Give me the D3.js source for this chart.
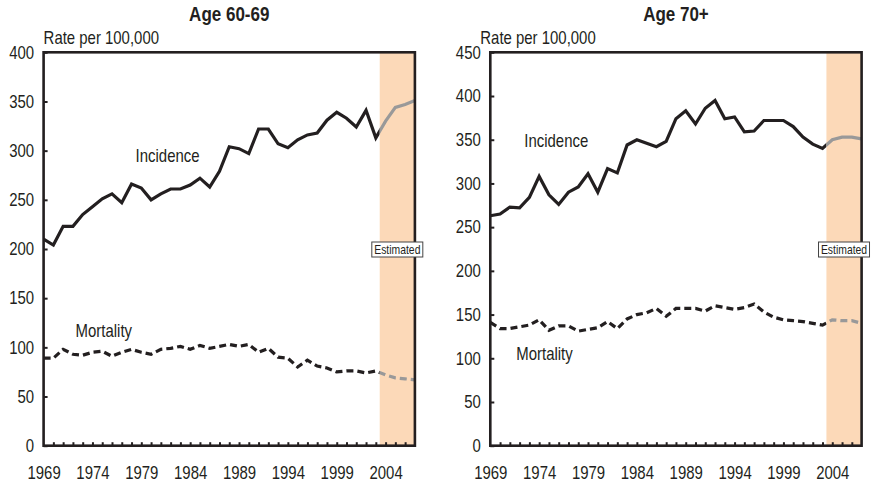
<!DOCTYPE html>
<html>
<head>
<meta charset="utf-8">
<script src="https://cdn.jsdelivr.net/npm/d3@7"></script>
<style>
  body { margin: 0; background: #fff; }
  svg text { font-family: 'Liberation Sans', Arial, sans-serif; fill: #231f20; }
</style>
</head>
<body>
<svg width="871" height="484"></svg>
<script>
// years on the x axis, 1969 - 2007 (2004 onward is estimated)
const years = [1969, 1970, 1971, 1972, 1973, 1974, 1975, 1976, 1977, 1978,
               1979, 1980, 1981, 1982, 1983, 1984, 1985, 1986, 1987, 1988,
               1989, 1990, 1991, 1992, 1993, 1994, 1995, 1996, 1997, 1998,
               1999, 2000, 2001, 2002, 2003, 2004, 2005, 2006, 2007];
const yearLabels = [1969, 1974, 1979, 1984, 1989, 1994, 1999, 2004];
const estimatedFrom = 2003.4;

// Age 60-69
const incidence6069 = [210, 204, 223, 223, 235, 243, 251, 256, 247, 266,
                       262, 250, 256, 261, 261, 265, 272, 263, 279, 304,
                       302, 297, 322, 322, 307, 303, 311, 316, 318, 331,
                       339, 333, 324, 341, 313, 330, 344, 347, 351];
const mortality6069 = [89, 89, 98, 93, 92, 95, 96, 91, 95, 98,
                       95, 93, 98, 99, 101, 98, 102, 99, 101, 103,
                       101, 103, 95, 99, 90, 89, 80, 87, 81, 79,
                       75, 76, 76, 74, 76, 72, 69, 68, 67];
const ticks6069 = [0, 50, 100, 150, 200, 250, 300, 350, 400];

// Age 70+
const incidence70 = [263, 265, 273, 272, 284, 308, 287, 276, 290, 296,
                     311, 290, 317, 312, 344, 350, 346, 342, 348, 374,
                     383, 368, 386, 395, 374, 376, 359, 360, 372, 372,
                     372, 365, 353, 345, 340, 350, 353, 353, 351];
const mortality70 = [141, 134, 134, 136, 138, 144, 132, 137, 137, 131,
                     133, 135, 142, 134, 145, 150, 152, 157, 148, 157,
                     157, 157, 154, 160, 158, 156, 158, 162, 153, 147,
                     144, 143, 142, 140, 138, 144, 143, 143, 140];
const ticks70 = [0, 50, 100, 150, 200, 250, 300, 350, 400, 450];

const ink = "#231f20";
const grey = "#999999";
const shade = "#fcd9b8";
const squeeze = 0.83; // no condensed font around, so squash Liberation Sans

const svg = d3.select("svg");

// text that is squeezed horizontally around its anchor point
function label(g, x, y, txt, size, k) {
  return g.append("text")
    .attr("transform", "translate(" + x + "," + y + ") scale(" + (k || squeeze) + ",1)")
    .attr("font-size", size)
    .text(txt);
}

function drawPanel(opt) {
  const g = svg.append("g").attr("transform", "translate(" + opt.left + ",0)");
  const w = 371.3;
  const top = 52.3, bottom = 445.7;

  const x = d3.scaleLinear().domain([1969, 2007]).range([0, w]);
  const y = d3.scaleLinear().domain([0, opt.max]).range([bottom, top]);

  // estimated band
  g.append("rect")
    .attr("x", x(estimatedFrom)).attr("y", top)
    .attr("width", x(2007) - x(estimatedFrom)).attr("height", bottom - top)
    .attr("fill", shade);

  // clip paths so the line turns grey inside the band
  const id = opt.id;
  g.append("clipPath").attr("id", id + "-obs")
    .append("rect").attr("x", -10).attr("y", 0)
    .attr("width", x(estimatedFrom) + 10).attr("height", 484);
  g.append("clipPath").attr("id", id + "-est")
    .append("rect").attr("x", x(estimatedFrom)).attr("y", 0)
    .attr("width", w - x(estimatedFrom) + 10).attr("height", 484);

  const line = d3.line()
    .x((d, i) => x(years[i]))
    .y(d => y(d));

  [[opt.incidence, null], [opt.mortality, "7,4"]].forEach(([vals, dash]) => {
    [["obs", ink], ["est", grey]].forEach(([part, col]) => {
      g.append("path")
        .datum(vals)
        .attr("d", line)
        .attr("fill", "none")
        .attr("stroke", col)
        .attr("stroke-width", 3.2)
        .attr("stroke-dasharray", dash)
        .attr("clip-path", "url(#" + id + "-" + part + ")");
    });
  });

  // x axis: tick every year, label every 5
  const xAxis = d3.axisBottom(x)
    .tickValues(years.slice(1, -1))
    .tickSize(-3.5)
    .tickFormat("");
  g.append("g").attr("transform", "translate(0," + bottom + ")").call(xAxis)
    .call(a => a.select(".domain").remove())
    .selectAll("line").attr("stroke", ink).attr("stroke-width", 2);

  const xLab = d3.axisBottom(x)
    .tickValues(yearLabels)
    .tickSize(0)
    .tickPadding(21)
    .tickFormat(d3.format("d"));
  g.append("g").attr("transform", "translate(0," + bottom + ")").call(xLab)
    .call(a => a.select(".domain").remove())
    .selectAll("text")
    .attr("font-size", 18).attr("font-family", null).attr("fill", null)
    .attr("transform", "scale(" + squeeze + ",1)");

  const yAxis = d3.axisLeft(y)
    .tickValues(opt.ticks)
    .tickSize(-4)
    .tickPadding(11.5);
  const ya = g.append("g").call(yAxis);
  ya.select(".domain").remove();
  ya.selectAll("line").attr("stroke", ink).attr("stroke-width", 2);
  ya.selectAll("text")
    .attr("font-size", 18).attr("font-family", null).attr("fill", null)
    .attr("transform", "scale(" + squeeze + ",1)");

  // frame
  g.append("rect")
    .attr("x", 0).attr("y", top)
    .attr("width", w).attr("height", bottom - top)
    .attr("fill", "none").attr("stroke", ink).attr("stroke-width", 2.6);

  // estimated label box
  const bx = (x(estimatedFrom) + w) / 2;
  g.append("rect")
    .attr("x", bx - 25.5).attr("y", 242)
    .attr("width", 51).attr("height", 15)
    .attr("fill", "#fff").attr("stroke", "#444").attr("stroke-width", 1);
  label(g, bx, 254, "Estimated", 13, 0.8).attr("text-anchor", "middle");

  // titles and labels
  label(g, w / 2, 21, opt.title, 20, 0.85)
    .attr("text-anchor", "middle").attr("font-weight", "bold");
  label(g, opt.unitX, 44, "Rate per 100,000", 18);
  label(g, opt.incLabel[0], opt.incLabel[1], "Incidence", 18);
  label(g, opt.morLabel[0], opt.morLabel[1], "Mortality", 18);
}

drawPanel({
  id: "p1", left: 43.6, max: 400, ticks: ticks6069, title: "Age 60-69",
  incidence: incidence6069, mortality: mortality6069,
  unitX: 0, incLabel: [92, 162], morLabel: [32, 337]
});

drawPanel({
  id: "p2", left: 490.3, max: 450, ticks: ticks70, title: "Age 70+",
  incidence: incidence70, mortality: mortality70,
  unitX: -10, incLabel: [34, 147], morLabel: [26, 360]
});
</script>
</body>
</html>
